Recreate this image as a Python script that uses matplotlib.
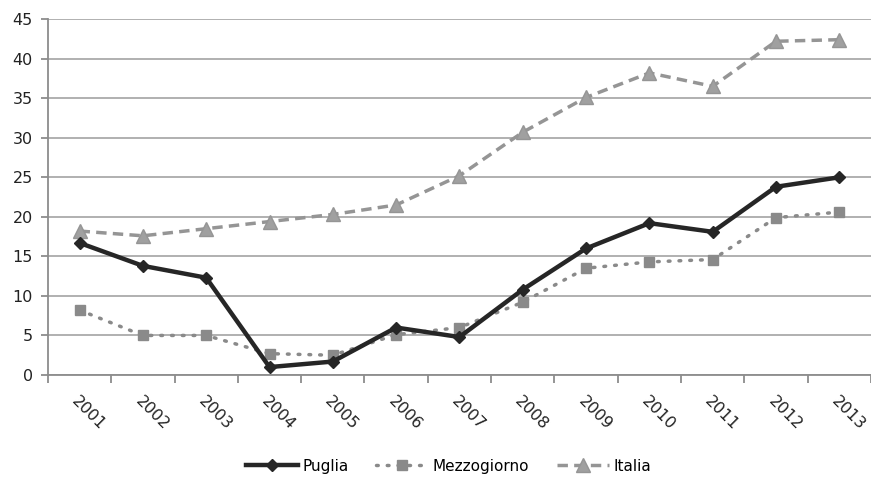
import matplotlib
matplotlib.use('Agg')
from matplotlib import pyplot as plt
import numpy as np

years = ["2001", "2002", "2003", "2004", "2005", "2006", "2007",
         "2008", "2009", "2010", "2011", "2012", "2013"]
puglia = [16.7, 13.8, 12.3, 1.0, 1.7, 6.0, 4.8, 10.8, 16.0, 19.2, 18.1, 23.8, 25.0]
mezzogiorno = [8.2, 5.0, 5.0, 2.7, 2.5, 5.1, 6.0, 9.2, 13.5, 14.3, 14.6, 19.9, 20.6]
italia = [18.2, 17.6, 18.5, 19.4, 20.3, 21.5, 25.2, 30.7, 35.1, 38.2, 36.5, 42.2, 42.4]


def main():
    fig = plt.figure(figsize=(8.71, 4.78), dpi=100)
    ax = fig.add_axes([0.055, 0.2155, 0.945, 0.7445])

    x = np.arange(len(years))
    ax.plot(x, puglia, color="#262626", lw=3.2, marker="D", ms=6.5,
            label="Puglia", zorder=5)
    ax.plot(x, mezzogiorno, color="#8a8a8a", lw=2.5, ls=(0, (0.5, 2.6)),
            dash_capstyle="round", marker="s", ms=6.5, label="Mezzogiorno", zorder=4)
    ax.plot(x, italia, color="#959595", lw=2.5, ls=(0, (3, 1.8)),
            marker="^", ms=10, markerfacecolor="#a0a0a0", label="Italia", zorder=3)

    ax.set_xlim(-0.5, len(years) - 0.5)
    ax.set_ylim(0, 45)
    ax.set_yticks(range(0, 46, 5))
    ax.yaxis.grid(True, color="#a3a3a3", lw=1.2)
    ax.set_axisbelow(True)

    # category labels centred, tick marks between categories
    ax.set_xticks(x)
    ax.set_xticklabels(years, rotation=-45, ha="left", va="top",
                       rotation_mode="anchor", fontsize=11.5, color="#222222")
    ax.tick_params(axis="x", length=0, pad=13)
    ax.set_xticks(np.arange(-0.5, len(years), 1.0), minor=True)
    ax.tick_params(axis="x", which="minor", length=6, width=1.3, color="#8c8c8c")
    ax.tick_params(axis="y", length=5, width=1.3, color="#8c8c8c", pad=6,
                   labelsize=11.5, labelcolor="#222222")

    for side in ["top", "right"]:
        ax.spines[side].set_visible(False)
    for side in ["left", "bottom"]:
        ax.spines[side].set_color("#8c8c8c")
        ax.spines[side].set_linewidth(1.3)

    fig.legend(loc="center", bbox_to_anchor=(0.515, 0.025), ncol=3,
               frameon=False, fontsize=11, handlelength=3.4,
               columnspacing=1.8, handletextpad=0.3)

    fig.savefig("out.png", dpi=100)


if (__name__ == "__main__"):
    main()
